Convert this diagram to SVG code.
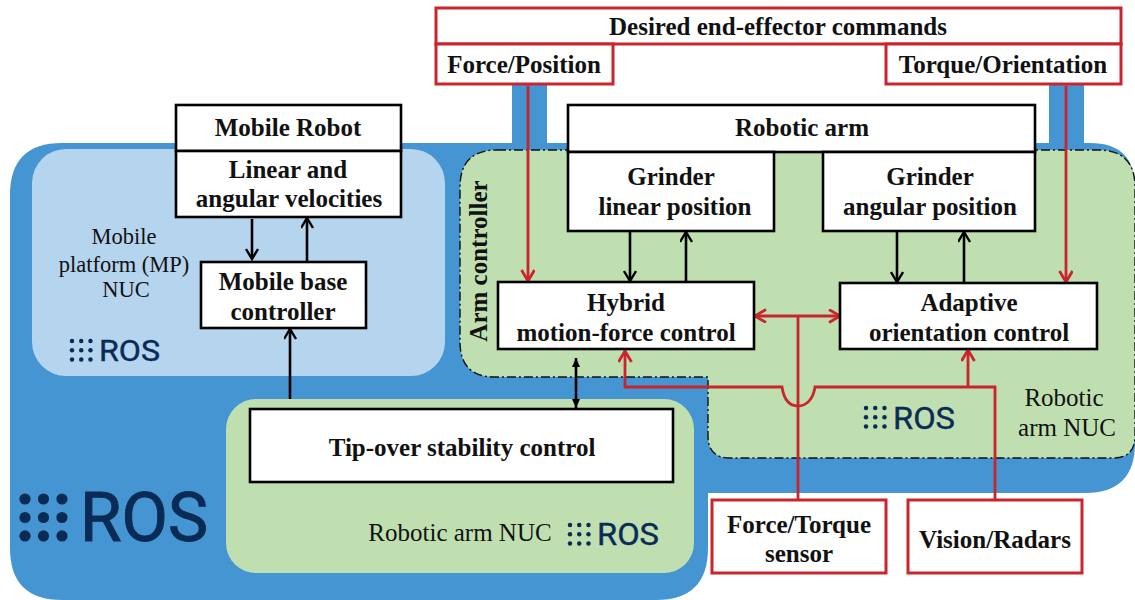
<svg xmlns="http://www.w3.org/2000/svg" width="1135" height="600" viewBox="0 0 1135 600">
<style>
.t{font-family:"Liberation Serif","Times New Roman",serif;font-weight:700;font-size:25px;fill:#111;text-anchor:middle}
.n{font-family:"Liberation Serif","Times New Roman",serif;font-size:25px;fill:#111;text-anchor:middle}
.m{font-size:22.5px}
.k{fill:#fff;stroke:#000;stroke-width:2.6}
.r{fill:#fff;stroke:#c9252d;stroke-width:3}
.bl{fill:none;stroke:#000;stroke-width:2.6}
.rl{fill:none;stroke:#c9252d;stroke-width:2.8}
.ros{font-family:"Roboto","Liberation Sans",sans-serif;font-weight:400;fill:#0b2b57;stroke:#0b2b57;stroke-width:.4}
</style>
<defs>
<marker id="ab" markerWidth="14" markerHeight="14" refX="12" refY="6.5" orient="auto-start-reverse" markerUnits="userSpaceOnUse"><path d="M2 0.5L12 6.5L2 12.5" fill="none" stroke="#000" stroke-width="2.4"/></marker>
<marker id="ad" markerWidth="10" markerHeight="10" refX="9" refY="4.5" orient="auto-start-reverse" markerUnits="userSpaceOnUse"><path d="M0 0.5L9 4.5L0 8.5Z" fill="#000"/></marker>
<marker id="ar" markerWidth="16" markerHeight="16" refX="13" refY="7" orient="auto-start-reverse" markerUnits="userSpaceOnUse"><path d="M2 0.5L13 7L2 13.5" fill="none" stroke="#c9252d" stroke-width="2.8"/></marker>
<g id="dots"><circle cx="0" cy="0" r="1"/><circle cx="3.3" cy="0" r="1"/><circle cx="6.6" cy="0" r="1"/><circle cx="0" cy="3.3" r="1"/><circle cx="3.3" cy="3.3" r="1"/><circle cx="6.6" cy="3.3" r="1"/><circle cx="0" cy="6.6" r="1"/><circle cx="3.3" cy="6.6" r="1"/><circle cx="6.6" cy="6.6" r="1"/></g>
<g id="dots-s"><circle cx="0" cy="0" r=".8"/><circle cx="3.3" cy="0" r=".8"/><circle cx="6.6" cy="0" r=".8"/><circle cx="0" cy="3.3" r=".8"/><circle cx="3.3" cy="3.3" r=".8"/><circle cx="6.6" cy="3.3" r=".8"/><circle cx="0" cy="6.6" r=".8"/><circle cx="3.3" cy="6.6" r=".8"/><circle cx="6.6" cy="6.6" r=".8"/></g>
</defs>
<g id="backgrounds">
<rect x="512" y="84" width="35" height="70" fill="#4495d1"/>
<rect x="1049" y="84" width="35" height="70" fill="#4495d1"/>
<path d="M62 143H1090Q1135 143 1135 188V443Q1135 493 1085 493H708V548Q708 600 656 600H62Q10 600 10 548V195Q10 143 62 143Z" fill="#4495d1"/>
<rect id="mp-panel" x="32" y="149" width="413" height="227" rx="34" fill="#b5d4ee"/>
<path id="arm-panel" d="M497 150H1098Q1135 150 1135 187V436Q1135 458 1113 458H730Q708 458 708 436V377H495Q460 377 460 342V187Q460 150 497 150Z" fill="#bfdfb0" stroke="#111" stroke-width="1.4" stroke-dasharray="9 3 2 3"/>
<rect id="tip-panel" x="226" y="399" width="468" height="174" rx="30" fill="#bfdfb0"/>
</g>
<g id="ros-logos">
<use href="#dots" transform="translate(25 499) scale(5.6)" fill="#0b2b57"/>
<text class="ros" x="80" y="541" font-size="68" textLength="128" lengthAdjust="spacingAndGlyphs" style="stroke-width:1">ROS</text>
<use href="#dots-s" transform="translate(72 341) scale(2.8)" fill="#0b2b57"/>
<text class="ros" x="99" y="361" font-size="30" textLength="61" lengthAdjust="spacingAndGlyphs">ROS</text>
<use href="#dots-s" transform="translate(570 525) scale(2.8)" fill="#0b2b57"/>
<text class="ros" x="597" y="545" font-size="32" textLength="62" lengthAdjust="spacingAndGlyphs">ROS</text>
<use href="#dots-s" transform="translate(866 408) scale(2.8)" fill="#0b2b57"/>
<text class="ros" x="893" y="429" font-size="32" textLength="62" lengthAdjust="spacingAndGlyphs">ROS</text>
</g>
<g id="connectors">
<path class="bl" d="M252 219V259" marker-end="url(#ab)"/>
<path class="bl" d="M307 262V218" marker-end="url(#ab)"/>
<path class="bl" d="M290 399V329" marker-end="url(#ab)"/>
<path class="bl" d="M576 358V408" marker-start="url(#ad)" marker-end="url(#ad)"/>
<path class="bl" d="M630 232V281" marker-end="url(#ab)"/>
<path class="bl" d="M686 281V232" marker-end="url(#ab)"/>
<path class="bl" d="M897 232V282" marker-end="url(#ab)"/>
<path class="bl" d="M964 282V232" marker-end="url(#ab)"/>
<path class="rl" d="M528 86V281" marker-end="url(#ar)"/>
<path class="rl" d="M1066 86V282" marker-end="url(#ar)"/>
<path class="rl" d="M755 316H840" marker-start="url(#ar)" marker-end="url(#ar)"/>
<path class="rl" d="M798 316V500"/>
<path class="rl" d="M995 500V387H815C813 400 806 406 798 406C790 406 784 400 782 387H625V351" marker-end="url(#ar)"/>
<path class="rl" d="M968 387V350" marker-end="url(#ar)"/>
</g>
<g id="desired"><rect class="r" x="436" y="8" width="685" height="36"/><text class="t" x="778" y="35">Desired end-effector commands</text></g>
<g id="force-position"><rect class="r" x="436" y="44" width="177" height="40"/><text class="t" x="524" y="73">Force/Position</text></g>
<g id="torque-orientation"><rect class="r" x="886" y="44" width="235" height="40"/><text class="t" x="1003" y="73">Torque/Orientation</text></g>
<g id="robotic-arm"><rect class="k" x="568" y="105" width="467" height="47"/><text class="t" x="802" y="136">Robotic arm</text></g>
<g id="grinder-linear"><rect class="k" x="568" y="152" width="206" height="79"/><text class="t" x="671" y="185">Grinder</text><text class="t" x="675" y="215">linear position</text></g>
<g id="grinder-angular"><rect class="k" x="823" y="152" width="212" height="79"/><text class="t" x="930" y="185">Grinder</text><text class="t" x="930" y="215">angular position</text></g>
<g id="hybrid"><rect class="k" x="498" y="282" width="256" height="67"/><text class="t" x="626" y="311">Hybrid</text><text class="t" x="626" y="341">motion-force control</text></g>
<g id="adaptive"><rect class="k" x="840" y="283" width="257" height="66"/><text class="t" x="969" y="311">Adaptive</text><text class="t" x="969" y="341">orientation control</text></g>
<g id="mobile-robot"><rect class="k" x="176" y="105" width="225" height="46"/><text class="t" x="288" y="136">Mobile Robot</text></g>
<g id="velocities"><rect class="k" x="176" y="151" width="225" height="66"/><text class="t" x="288" y="178">Linear and</text><text class="t" x="289" y="207">angular velocities</text></g>
<g id="base-controller"><rect class="k" x="201" y="262" width="165" height="66"/><text class="t" x="283" y="290">Mobile base</text><text class="t" x="283" y="320">controller</text></g>
<g id="tip-over"><rect class="k" x="250" y="409" width="423" height="73"/><text class="t" x="462" y="456">Tip-over stability control</text></g>
<g id="force-torque"><rect class="r" x="712" y="500" width="174" height="73"/><text class="t" x="799" y="533">Force/Torque</text><text class="t" x="799" y="562">sensor</text></g>
<g id="vision"><rect class="r" x="908" y="500" width="174" height="73"/><text class="t" x="995" y="548">Vision/Radars</text></g>
<g id="labels">
<text class="n m" x="124" y="244">Mobile</text><text class="n m" x="124" y="272">platform (MP)</text><text class="n m" x="126" y="297">NUC</text>
<text class="n" x="460" y="541">Robotic arm NUC</text>
<text class="n" x="1064" y="406">Robotic</text><text class="n" x="1067" y="436">arm NUC</text>
<text class="t" transform="translate(487 261) rotate(-90)">Arm controller</text>
</g>
</svg>
